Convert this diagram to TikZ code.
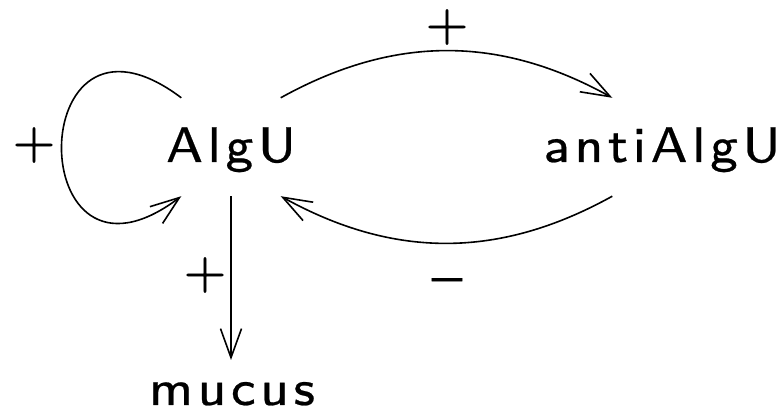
\documentclass[tikz,border=0pt]{standalone}
\usepackage{fontspec}
\usepackage{graphicx}
\newfontfamily\labfont{lmsans8-regular.otf}[LetterSpace=9.5,FakeStretch=1.04,FakeBold=0.5]
\usetikzlibrary{arrows.meta}
\tikzset{
  txt/.style={font={\labfont\fontsize{50}{60}\selectfont}},
  box/.style={txt, minimum width=99pt, minimum height=98pt, inner sep=0pt, text height=34pt, text depth=4pt},
  arr/.style={line width=1.6pt, -{Straight Barb[length=29pt,width=21pt]}},
  sign/.style={txt, inner sep=0pt},
}
\begin{document}
\begin{tikzpicture}[x=1pt,y=1pt]
\useasboundingbox (0,0) rectangle (781,414);
\node[box] (A) at (231,267) {\makebox[0pt]{AlgU}};
\node[box] (B) at (662,267) {\makebox[0pt]{antiAlgU}};
\node[txt, anchor=base, inner sep=0pt] (M) at (232,9) {mucus};
\coordinate (Mt) at (231,54);
\draw[arr] (A.north east) to[bend left=29] (B.north west);
\draw[arr] (B.south west) to[bend left=29] (A.south east);
\draw[arr] (A.north west) to[out=143,in=-143,looseness=5.2] (A.south west);
\draw[arr] (A.south) -- (Mt);
\node[sign] (p1) at (34,269) {+};
\node[sign] (p2) at (447,387) {+};
\node[sign] (p3) at (205,139) {+};
\node[sign, anchor=base] (m1) at (447,122) {\scalebox{1.1}[0.9]{–}};
\end{tikzpicture}
\end{document}
